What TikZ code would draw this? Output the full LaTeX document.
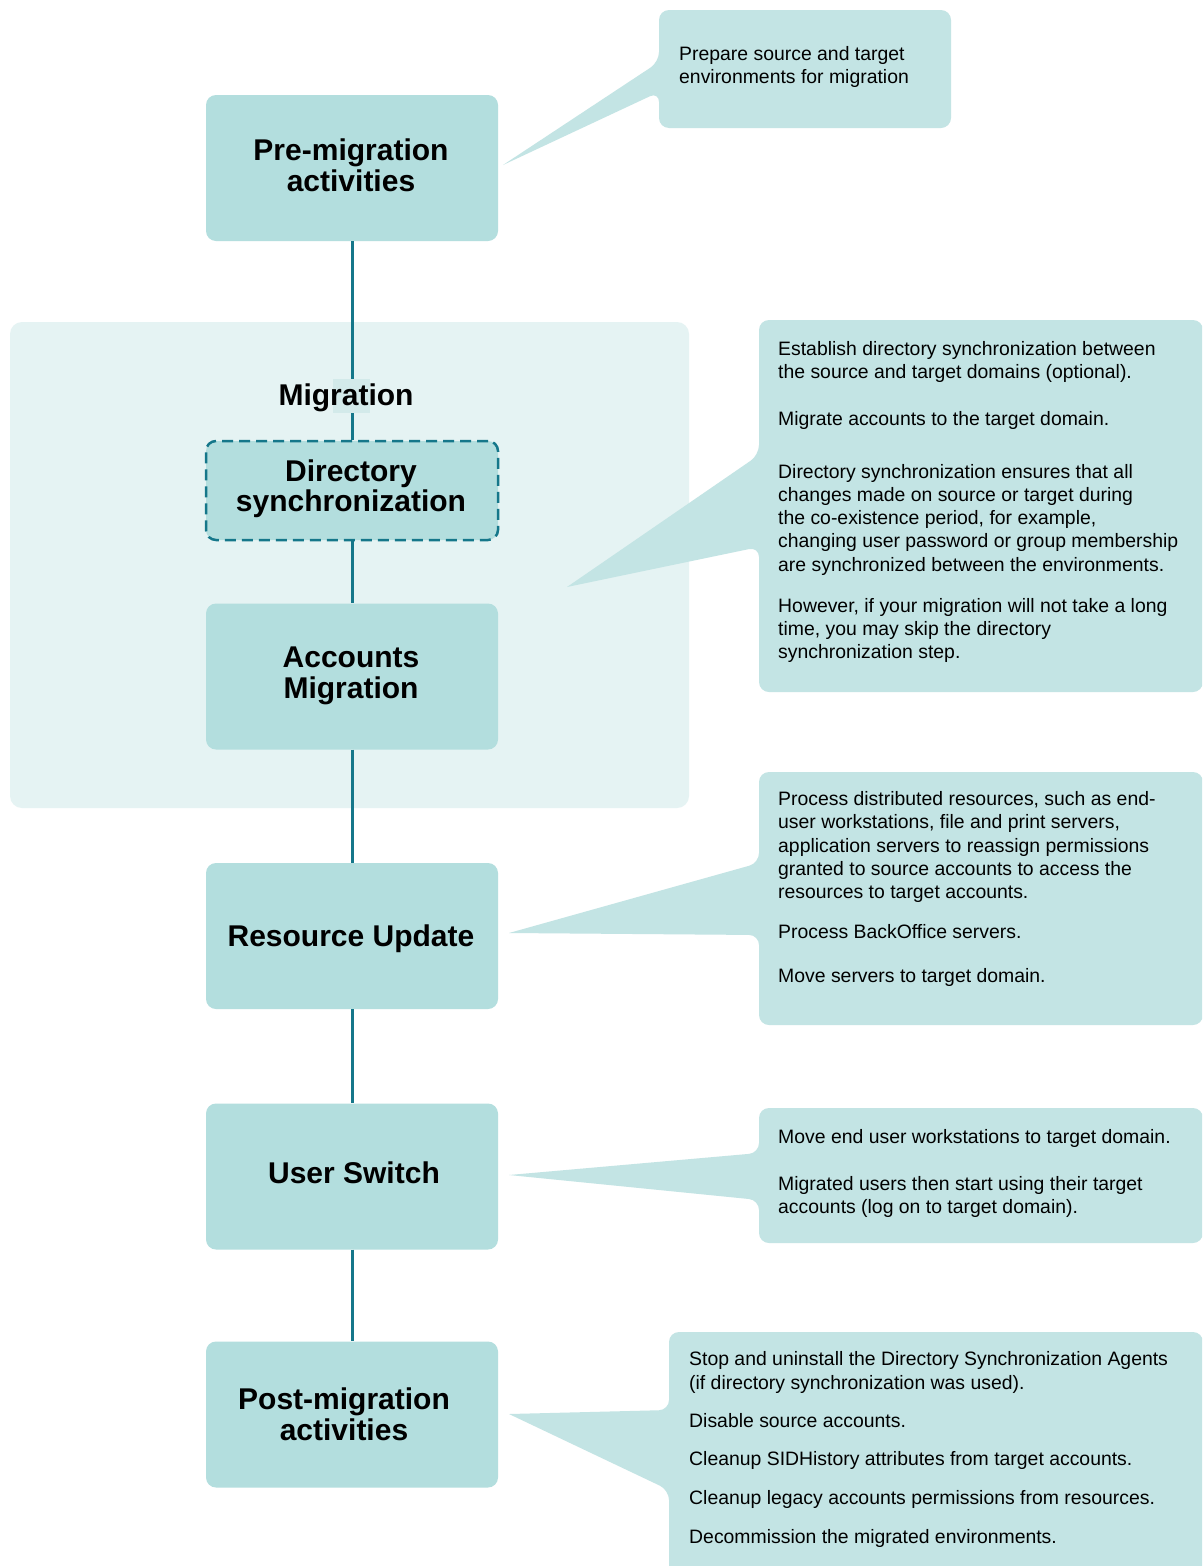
\documentclass[tikz,border=0pt]{standalone}
\usepackage{fontspec}
\setmainfont{Liberation Sans}
\definecolor{linec}{HTML}{15778A}
\definecolor{boxc}{HTML}{B3DEDE}
\definecolor{callc}{HTML}{C3E4E4}
\definecolor{grpc}{HTML}{E5F3F3}
\definecolor{patchc}{HTML}{D3EAEA}
\newcommand\mytitlefont{\fontsize{30}{30.5}\selectfont\bfseries}
\newcommand\mynotefont{\fontsize{19.4}{23.4}\selectfont}
\begin{document}
\begin{tikzpicture}[x=1pt,y=-1pt,
  stepbox/.style={rounded corners=10pt, fill=boxc, minimum width=292pt, minimum height=146pt, inner sep=0pt},
  titletext/.style={inner sep=0pt, align=center, font=\mytitlefont},
  conn/.style={draw=linec, line width=3pt},
  callout/.style={fill=callc, rounded corners=10pt},
  note/.style={anchor=base west, inner sep=0pt, font=\mynotefont}]
\useasboundingbox (0,0) rectangle (1202,1566);
\clip (0,0) rectangle (1202,1566);
\fill[white] (0,0) rectangle (1202,1566);
% migration group
\fill[grpc, rounded corners=12pt] (10,322) rectangle (689,808);
% callouts
\path[callout] (503,165) -- (659,62) -- (659,10) -- (951,10) -- (951,128) -- (659,128) -- (659,92) -- (503,165);
\path[callout] (567,587) -- (759,455) -- (759,320) -- (1203,320) -- (1203,692) -- (759,692) -- (759,547) -- (567,587);
\path[callout] (509,933) -- (759,863) -- (759,772) -- (1203,772) -- (1203,1025) -- (759,1025) -- (759,935) -- (509,933);
\path[callout] (509,1175) -- (759,1153) -- (759,1108) -- (1203,1108) -- (1203,1243) -- (759,1243) -- (759,1200) -- (509,1175);
\path[callout] (509,1414) -- (669,1410) -- (669,1332) -- (1203,1332) -- (1203,1600) -- (669,1600) -- (669,1490) -- (509,1414);
% main boxes
\node[stepbox] (pre) at (352,168) {};
\node[stepbox, minimum height=99pt, draw=linec, line width=2.5pt, dash pattern=on 11pt off 6pt] (dir) at (352,490.5) {};
\node[stepbox] (acc) at (352,676.5) {};
\node[stepbox] (res) at (352,936) {};
\node[stepbox] (usr) at (352,1176.5) {};
\node[stepbox] (post) at (352,1414.5) {};
% box texts
\node[titletext] (preT) at (351,165.5) {Pre-migration\\activities};
\node[titletext] (dirT) at (351,488.5) {Directory\\synchronization};
\node[titletext] (accT) at (351,676) {Accounts\\Migration};
\node[titletext] (resT) at (351,939) {Resource Update};
\node[titletext] (usrT) at (354,1172.5) {User Switch};
\node[titletext] (postT) at (344,1414.5) {Post-migration\\activities};
% connectors
\draw[conn] (pre.south) -- (dir.north);
\draw[conn] (dir.south) -- (acc.north);
\draw[conn] (acc.south) -- (res.north);
\draw[conn] (res.south) -- (usr.north);
\draw[conn] (usr.south) -- (post.north);
% migration label
\fill[patchc] (333,379) rectangle (370,413);
\node[anchor=base, inner sep=0pt, font=\mytitlefont] (miglabel) at (346,405) {Migration};
% callout texts
\foreach \yy/\tx [count=\i] in {60/{Prepare source and target}, 83/{environments for migration}}
  \node[note] (ca\i) at (679,\yy) {\tx};
\foreach \yy/\tx [count=\i] in {355/{Establish directory synchronization between},
  378/{the source and target domains (optional).},
  425/{Migrate accounts to the target domain.},
  478/{Directory synchronization ensures that all},
  501/{changes made on source or target during},
  524/{the co-existence period, for example,},
  547/{changing user password or group membership},
  571/{are synchronized between the environments.},
  612/{However, if your migration will not take a long},
  635/{time, you may skip the directory},
  658/{synchronization step.}}
  \node[note] (cb\i) at (778,\yy) {\tx};
\foreach \yy/\tx [count=\i] in {805/{Process distributed resources, such as end-},
  828/{user workstations, file and print servers,},
  852/{application servers to reassign permissions},
  875/{granted to source accounts to access the},
  898/{resources to target accounts.},
  938/{Process BackOffice servers.},
  982/{Move servers to target domain.}}
  \node[note] (cc\i) at (778,\yy) {\tx};
\foreach \yy/\tx [count=\i] in {1143/{Move end user workstations to target domain.},
  1190/{Migrated users then start using their target},
  1213/{accounts (log on to target domain).}}
  \node[note] (cd\i) at (778,\yy) {\tx};
\foreach \yy/\tx [count=\i] in {1365/{Stop and uninstall the Directory Synchronization Agents},
  1389/{(if directory synchronization was used).},
  1427/{Disable source accounts.},
  1465/{Cleanup SIDHistory attributes from target accounts.},
  1504/{Cleanup legacy accounts permissions from resources.},
  1543/{Decommission the migrated environments.}}
  \node[note] (ce\i) at (689,\yy) {\tx};
\end{tikzpicture}
\end{document}
